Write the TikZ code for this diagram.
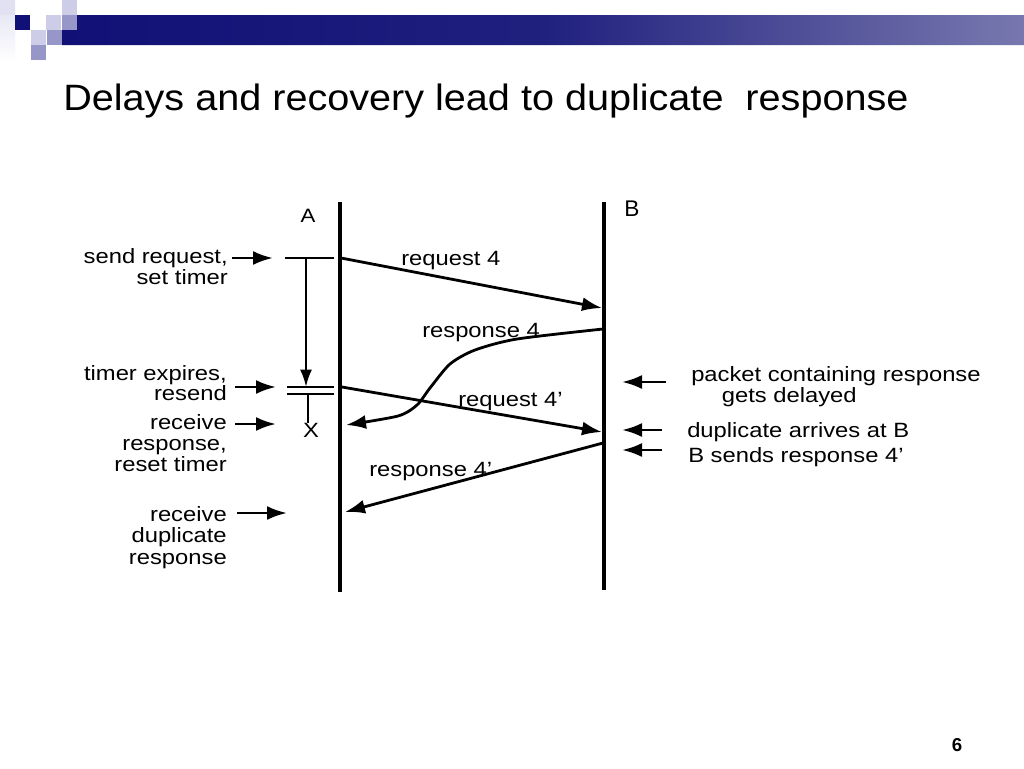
\documentclass[tikz,border=0pt]{standalone}
\usepackage{fontspec}
\setmainfont{Liberation Sans}
\newfontfamily\widefont[FakeStretch=1.15]{Liberation Sans}
\newfontfamily\titlefont[FakeStretch=1.08]{Liberation Sans}
\usetikzlibrary{arrows.meta}
\definecolor{navy}{RGB}{16,16,118}
\definecolor{barend}{RGB}{120,120,175}
\definecolor{medsq}{RGB}{150,150,200}
\definecolor{lightsq}{RGB}{205,205,232}
\definecolor{faint}{RGB}{225,225,242}
\begin{document}
\begin{tikzpicture}[x=0.75pt,y=-0.75pt,
  lbl/.style={inner sep=0pt, font=\widefont\fontsize{15.5}{15}\selectfont},
  ln/.style={line width=2.1pt},
  life/.style={line width=2.4pt},
  arr/.style={ln, -{Latex[length=15pt,width=10.5pt]}},
  tarr/.style={line width=1.9pt, -{Latex[length=13pt,width=9pt]}}]
\useasboundingbox (0,0) rectangle (1024,768);
\fill[white] (0,0) rectangle (1024,768);
% header decoration
\shade[top color=faint, bottom color=white] (0,0) rectangle (15,62);
\fill[faint] (0,0) rectangle (15,15);
\fill[navy] (15,15) rectangle (30,30);
\fill[lightsq] (31,30) rectangle (46,45);
\fill[lightsq] (46,15) rectangle (61,30);
\fill[lightsq] (62,0) rectangle (77,15);
\fill[medsq] (62,15) rectangle (77,30);
\fill[medsq] (47,30) rectangle (62,45);
\fill[medsq] (31,45) rectangle (46,60);
\shade[left color=navy, right color=barend, middle color=navy!85!barend]
  (77,15) -- (1024,15) -- (1024,45) -- (62,45) -- (62,30) -- (77,30) -- cycle;
% title
\node[inner sep=0pt, anchor=base west, font=\titlefont\fontsize{27.5}{30}\selectfont] (title) at (63,110)
  {Delays and recovery lead to duplicate\ \ response};
% lifelines
\coordinate (Atop) at (340,202); \coordinate (Abot) at (340,592);
\coordinate (Btop) at (604,202); \coordinate (Bbot) at (604,590);
\draw[life] (Atop) -- (Abot);
\draw[life] (Btop) -- (Bbot);
\node[inner sep=0pt, font=\widefont\fontsize{14.5}{15}\selectfont, anchor=base] (labA) at (308,222) {A};
\node[inner sep=0pt, font=\fontsize{17}{18}\selectfont, anchor=base] (labB) at (632,216) {B};
% timer
\coordinate (t1l) at (285,258); \coordinate (t1r) at (334,258);
\draw[ln] (t1l) -- (t1r);
\coordinate (tv1) at (306,258); \coordinate (tv2) at (306,387);
\draw[tarr] (tv1) -- (tv2);
\coordinate (d1l) at (287,387); \coordinate (d1r) at (334,387);
\coordinate (d2l) at (287,394); \coordinate (d2r) at (334,394);
\draw[ln] (d1l) -- (d1r);
\draw[ln] (d2l) -- (d2r);
\coordinate (tv3) at (308,394);
\node[lbl, anchor=base] (X) at (311,437) {X};
\draw[line width=1.7pt] (tv3) -- (tv3 |- X.north);
% left side labels and arrows
\node[lbl, anchor=base east, align=right, font=\widefont\fontsize{15.5}{13.5}\selectfont] (L1) at (228,284) {send request,\\set timer};
\node[lbl, anchor=base east, align=right] (L2) at (227,400) {timer expires,\\resend};
\node[lbl, anchor=base east, align=right, font=\widefont\fontsize{15.5}{15.4}\selectfont] (L3) at (227,471) {receive\\response,\\reset timer};
\node[lbl, anchor=base east, align=right, font=\widefont\fontsize{15.5}{15.8}\selectfont] (L4) at (227,564) {receive\\duplicate\\response};
\coordinate (a1s) at (232,258); \coordinate (a1e) at (273,258);
\coordinate (a2s) at (235,387); \coordinate (a2e) at (276,387);
\coordinate (a3s) at (235,424); \coordinate (a3e) at (276,424);
\coordinate (a4s) at (237,513); \coordinate (a4e) at (287,513);
\draw[arr] (a1s) -- (a1e);
\draw[arr] (a2s) -- (a2e);
\draw[arr] (a3s) -- (a3e);
\draw[arr] (a4s) -- (a4e);
% messages
\coordinate (m1s) at (341,258); \coordinate (m1e) at (602,308);
\draw[arr] (m1s) -- (m1e);
\node[lbl, anchor=base west] (m1l) at (401,265) {request 4};
\draw[arr] plot[smooth, tension=0.45] coordinates {(603,329) (517,339) (475,350) (450,364) (430,388) (417,405) (398,416) (346,425)};
\node[lbl, anchor=base west] (m2l) at (422,337) {response 4};
\coordinate (m3s) at (342,387); \coordinate (m3e) at (602,432);
\draw[arr] (m3s) -- (m3e);
\node[lbl, anchor=base west] (m3l) at (458,406) {request 4’};
\coordinate (m4s) at (603,443); \coordinate (m4e) at (345,512);
\draw[arr] (m4s) -- (m4e);
\node[lbl, anchor=base west] (m4l) at (369,476) {response 4’};
% right side
\coordinate (r1s) at (666,382); \coordinate (r1e) at (622,382);
\coordinate (r2s) at (662,430); \coordinate (r2e) at (622,430);
\coordinate (r3s) at (662,450); \coordinate (r3e) at (622,450);
\draw[arr] (r1s) -- (r1e);
\draw[arr] (r2s) -- (r2e);
\draw[arr] (r3s) -- (r3e);
\node[lbl, anchor=base west, align=left, font=\widefont\fontsize{15.5}{11.5}\selectfont] (R1) at (691,402) {packet containing response\\\hspace*{23pt}gets delayed};
\node[lbl, anchor=base west] (R2) at (687,437) {duplicate arrives at B};
\node[lbl, anchor=base west] (R3) at (688,462) {B sends response 4’};
% page number
\node[inner sep=0pt, anchor=base, font=\bfseries\fontsize{14}{16}\selectfont] (pg) at (957,751) {6};
\end{tikzpicture}
\end{document}
